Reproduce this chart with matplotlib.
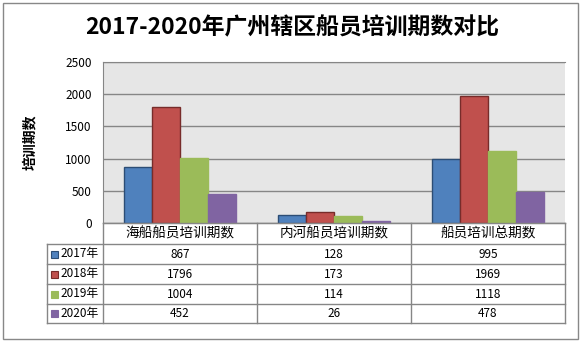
import matplotlib
matplotlib.use("Agg")
import matplotlib.pyplot as plt
from matplotlib.patches import Rectangle
from matplotlib.lines import Line2D

plt.rcParams['font.family'] = ['Noto Sans CJK SC', 'DejaVu Sans']

title = "2017-2020年广州辖区船员培训期数对比"
ylabel = "培训期数"
categories = ["海船船员培训期数", "内河船员培训期数", "船员培训总期数"]
years = ["2017年", "2018年", "2019年", "2020年"]
values = [
    [867, 128, 995],
    [1796, 173, 1969],
    [1004, 114, 1118],
    [452, 26, 478],
]
yticks = [0, 500, 1000, 1500, 2000, 2500]

colors = ["#4F81BD", "#C0504D", "#9BBB59", "#8064A2"]
edges = ["#2C4D75", "#772C2A", "#9BBB59", "#8064A2"]
grid_c = "#868686"

W, H = 585, 345
fig = plt.figure(figsize=(W / 100, H / 100), dpi=100)


def fx(px):
    return px / W


def fy(py):
    return 1 - py / H


# outer frame
fig.add_artist(Rectangle((fx(3), fy(339)), fx(575), 336 / H, transform=fig.transFigure,
                         fill=False, edgecolor="#888888", lw=1))

fig.text(fx(292), fy(28), title, ha="center", va="center", fontsize=16.5, fontweight="bold")

left, right, top, bottom = 103, 565, 62, 223
ax = fig.add_axes([fx(left), fy(bottom), fx(right - left), (bottom - top) / H])
ax.set_facecolor("#E6E6E6")

n = len(years)
bw = 1 / (n + 1.5)
for i in range(n):
    xs = [c - n * bw / 2 + (i + 0.5) * bw for c in range(len(categories))]
    ax.bar(xs, values[i], width=bw, color=colors[i], edgecolor=edges[i], linewidth=1, zorder=3)

ax.set_xlim(-0.5, len(categories) - 0.5)
ax.set_ylim(0, 2500)
ax.set_yticks(yticks)
ax.set_yticklabels([str(t) for t in yticks], fontsize=8.5)
ax.tick_params(axis="y", length=0, pad=8)
ax.set_xticks([])
ax.grid(axis="y", color=grid_c, lw=1, zorder=0)
for s in ax.spines.values():
    s.set_color(grid_c)
ax.spines["right"].set_visible(False)

fig.text(fx(30), fy(142), ylabel, rotation=90, ha="center", va="center",
         fontsize=10, fontweight="bold")

# data table below the axis
row_h = [bottom, 244, 264, 284, 304, 323]
tab_left = 47
line_kw = dict(color=grid_c, lw=1, transform=fig.transFigure)
# column boundaries from the axis scale
to_px = lambda xd: ax.transData.transform((xd, 0))[0]
col_edges = [to_px(c - 0.5) for c in range(len(categories) + 1)]

for j, y in enumerate(row_h):
    x0 = tab_left if j >= 1 else col_edges[0]
    fig.add_artist(Line2D([fx(x0), col_edges[-1] / W], [fy(y), fy(y)], **line_kw))
for xe in col_edges:
    fig.add_artist(Line2D([xe / W, xe / W], [fy(row_h[0]), fy(row_h[-1])], **line_kw))
fig.add_artist(Line2D([fx(tab_left), fx(tab_left)], [fy(row_h[1]), fy(row_h[-1])], **line_kw))

for c, name in enumerate(categories):
    cx = (col_edges[c] + col_edges[c + 1]) / 2
    fig.text(cx / W, fy((row_h[0] + row_h[1]) / 2), name, ha="center", va="center", fontsize=9.8)
    for i in range(n):
        cy = (row_h[i + 1] + row_h[i + 2]) / 2
        fig.text(cx / W, fy(cy), str(values[i][c]), ha="center", va="center", fontsize=8.5)

for i in range(n):
    cy = (row_h[i + 1] + row_h[i + 2]) / 2
    fig.add_artist(Rectangle((fx(51), fy(cy + 3.5)), fx(7), 7 / H, transform=fig.transFigure,
                             facecolor=colors[i], edgecolor=edges[i], lw=0.8))
    fig.text(fx(60), fy(cy), years[i], ha="left", va="center", fontsize=8.5)

fig.savefig("out.png", dpi=100)
